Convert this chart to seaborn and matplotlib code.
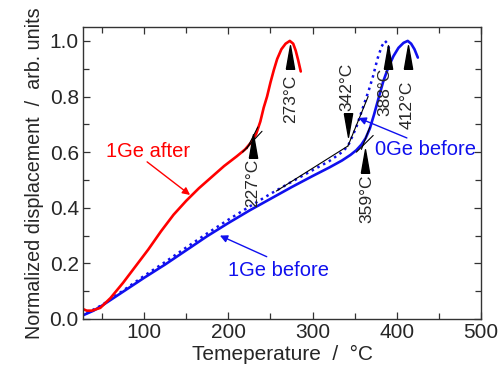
"""
Normalized displacement vs temperature (1Ge after / 1Ge before / 0Ge before)
"""
import matplotlib
matplotlib.use('Agg')
import matplotlib.pyplot as plt
from matplotlib.ticker import MultipleLocator
import pandas as pd
import seaborn as sns

# Data
temp_1ge_after = [25, 28, 32, 38, 48, 60, 75, 90, 105, 120, 135, 150, 165, 180, 195,
                  210, 220, 227, 233, 238, 242, 246, 250, 254, 258, 263, 268, 273,
                  277, 280, 283, 286]
disp_1ge_after = [0.045, 0.035, 0.030, 0.030, 0.040, 0.075, 0.130, 0.190, 0.250, 0.315,
                  0.375, 0.425, 0.470, 0.510, 0.550, 0.585, 0.610, 0.635, 0.665, 0.710,
                  0.760, 0.800, 0.850, 0.895, 0.935, 0.970, 0.990, 1.000, 0.990, 0.965,
                  0.930, 0.890]

temp_1ge_before = [25, 40, 50, 75, 100, 125, 150, 175, 200, 225, 250, 275, 300, 320,
                   335, 345, 352, 358, 363, 368, 373, 378, 384, 390, 396, 402, 408,
                   413, 417, 421, 425]
disp_1ge_before = [0.010, 0.030, 0.048, 0.098, 0.148, 0.196, 0.247, 0.298, 0.345, 0.390,
                   0.432, 0.474, 0.514, 0.545, 0.570, 0.590, 0.607, 0.627, 0.650, 0.685,
                   0.735, 0.790, 0.855, 0.905, 0.945, 0.975, 0.993, 1.000, 0.990, 0.970,
                   0.940]

temp_0ge_before = [25, 50, 75, 100, 125, 150, 175, 200, 225, 250, 275, 300, 320, 335,
                   342, 347, 352, 357, 362, 367, 372, 377, 382, 386, 389, 392]
disp_0ge_before = [0.010, 0.050, 0.102, 0.155, 0.205, 0.257, 0.308, 0.357, 0.404, 0.450,
                   0.493, 0.535, 0.568, 0.600, 0.622, 0.655, 0.690, 0.735, 0.780, 0.825,
                   0.875, 0.935, 0.980, 1.000, 0.990, 0.960]

# onset / peak markers
mark_labels = ['227°C', '273°C', '342°C', '388°C', '412°C', '359°C']
mark_temp = [229, 273, 342, 389, 413, 362]
mark_disp = [0.622, 0.942, 0.696, 0.942, 0.942, 0.567]
mark_dir = ['up', 'up', 'down', 'up', 'up', 'up']
mark_text_temp = [229, 274, 341, 386, 412, 364]
mark_text_disp = [0.489, 0.790, 0.835, 0.818, 0.770, 0.433]

# tangent construction lines
tangent_temp = [(217, 240), (222, 235), (257, 342), (342, 366), (352, 372), (358, 368)]
tangent_disp = [(0.600, 0.675), (0.612, 0.690), (0.460, 0.622), (0.622, 0.800),
                (0.600, 0.660), (0.610, 0.690)]

RED = '#ff0000'
BLUE = '#1010ee'

sns.set_style('ticks')
plt.rcParams['font.family'] = ['Liberation Sans', 'DejaVu Sans']

fig = plt.figure(figsize=(4.98, 3.76), dpi=100)
ax = fig.add_axes([0.1667, 0.1516, 0.7992, 0.7766])

df_after = pd.DataFrame({'T': temp_1ge_after, 'd': disp_1ge_after})
df_1ge = pd.DataFrame({'T': temp_1ge_before, 'd': disp_1ge_before})
df_0ge = pd.DataFrame({'T': temp_0ge_before, 'd': disp_0ge_before})

sns.lineplot(data=df_0ge, x='T', y='d', color=BLUE, lw=1.8, ax=ax,
             linestyle=(0, (1, 1.6)), sort=False)
sns.lineplot(data=df_1ge, x='T', y='d', color=BLUE, lw=1.9, ax=ax, sort=False)
sns.lineplot(data=df_after, x='T', y='d', color=RED, lw=1.9, ax=ax, sort=False)

# tangents
for tt, dd in zip(tangent_temp, tangent_disp):
    ax.plot(tt, dd, color='black', lw=0.8)

# triangle markers + rotated labels
up_tri = [(-0.35, -1), (0.35, -1), (0, 1), (-0.35, -1)]
down_tri = [(-0.35, 1), (0.35, 1), (0, -1), (-0.35, 1)]
for lab, t, d, dr, tt, td in zip(mark_labels, mark_temp, mark_disp, mark_dir,
                                 mark_text_temp, mark_text_disp):
    ax.plot([t], [d], marker=up_tri if dr == 'up' else down_tri, markersize=17,
            color='black', linestyle='none')
    ax.text(tt, td, lab, rotation=90, ha='center', va='center', fontsize=12.5)

# series labels with arrows
arrow_kw = dict(arrowstyle='-|>', lw=1.0, mutation_scale=11, shrinkA=0, shrinkB=0)
ax.annotate('', xy=(154.6, 0.446), xytext=(103.6, 0.565),
            arrowprops=dict(color=RED, **arrow_kw))
ax.text(104.7, 0.604, '1Ge after', color=RED, fontsize=14.5, ha='center', va='center')

ax.annotate('', xy=(190, 0.300), xytext=(245.6, 0.224),
            arrowprops=dict(color=BLUE, **arrow_kw))
ax.text(260, 0.176, '1Ge before', color=BLUE, fontsize=14.5, ha='center', va='center')

ax.annotate('', xy=(354.6, 0.723), xytext=(412, 0.651),
            arrowprops=dict(color=BLUE, **arrow_kw))
ax.text(434.6, 0.610, '0Ge before', color=BLUE, fontsize=14.5, ha='center', va='center')

ax.set_xlim(27.5, 500)
ax.set_ylim(0, 1.05)
ax.xaxis.set_major_locator(MultipleLocator(100))
ax.xaxis.set_minor_locator(MultipleLocator(50))
ax.yaxis.set_major_locator(MultipleLocator(0.2))
ax.yaxis.set_minor_locator(MultipleLocator(0.1))
ax.yaxis.set_major_formatter(plt.FormatStrFormatter('%.1f'))
ax.tick_params(which='both', direction='in', top=True, right=True,
               color='#333333', width=0.9, labelsize=15, pad=3)
ax.tick_params(which='major', length=5)
ax.tick_params(which='minor', length=4)
for sp in ax.spines.values():
    sp.set_visible(True)
    sp.set_color('#333333')
    sp.set_linewidth(1.0)

ax.set_xlabel('Temeperature  /  °C', fontsize=15, labelpad=2)
ax.set_ylabel('Normalized displacement  /  arb. units', fontsize=14.2, labelpad=4)

fig.savefig('out.png', dpi=100)
